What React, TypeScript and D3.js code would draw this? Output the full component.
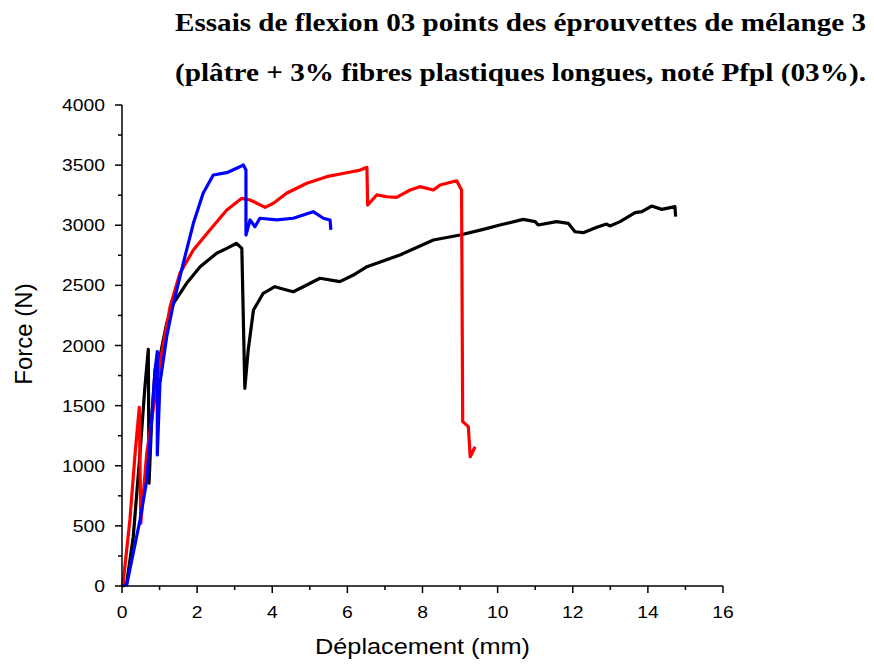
import React from "react";
import * as d3 from "d3";

const xTicks = [0, 2, 4, 6, 8, 10, 12, 14, 16];
const yTicks = [0, 500, 1000, 1500, 2000, 2500, 3000, 3500, 4000];
const titleLines = [
  "Essais de flexion 03 points des éprouvettes de mélange 3",
  "(plâtre + 3% fibres plastiques longues, noté Pfpl (03%).",
];

const blackX = [0, 0.125, 0.3, 0.48, 0.61, 0.7, 0.72, 0.79, 0.88, 1.01, 1.19, 1.37, 1.72, 2.08, 2.52, 2.79, 3.05, 3.19, 3.27, 3.36, 3.5, 3.76, 4.07, 4.38, 4.56, 4.92, 5.27, 5.8, 6.16, 6.52, 7.4, 8.29, 9.0, 9.62, 10.06, 10.68, 11.0, 11.08, 11.57, 11.88, 12.06, 12.28, 12.64, 12.9, 12.99, 13.26, 13.66, 13.84, 14.1, 14.37, 14.72, 14.74];
const blackY = [0, 25, 410, 1106, 1657, 1968, 856, 1380, 1796, 1907, 2185, 2351, 2517, 2655, 2767, 2808, 2850, 2808, 1644, 1963, 2295, 2434, 2489, 2462, 2447, 2503, 2559, 2531, 2586, 2655, 2753, 2877, 2919, 2966, 3002, 3049, 3030, 3002, 3030, 3016, 2946, 2938, 2983, 3010, 2994, 3030, 3105, 3113, 3160, 3132, 3155, 3071];

const redX = [0, 0.03, 0.21, 0.35, 0.46, 0.5, 0.66, 0.92, 1.01, 1.28, 1.54, 1.9, 2.34, 2.79, 3.19, 3.41, 3.59, 3.81, 4.03, 4.38, 4.92, 5.45, 5.98, 6.34, 6.52, 6.54, 6.78, 7.05, 7.31, 7.67, 7.93, 8.29, 8.47, 8.91, 9.04, 9.07, 9.22, 9.27, 9.4];
const redY = [0, 25, 549, 1106, 1486, 521, 1106, 1657, 1852, 2323, 2600, 2794, 2961, 3127, 3224, 3210, 3183, 3149, 3183, 3266, 3349, 3404, 3437, 3459, 3482, 3168, 3252, 3237, 3232, 3293, 3321, 3293, 3335, 3370, 3293, 1367, 1325, 1075, 1158];

const blueX = [0, 0.125, 0.3, 0.48, 0.66, 0.79, 0.88, 0.94, 0.94, 1.01, 1.19, 1.37, 1.63, 1.9, 2.16, 2.43, 2.79, 3.14, 3.23, 3.3, 3.3, 3.41, 3.54, 3.67, 4.12, 4.56, 5.09, 5.36, 5.54, 5.56];
const blueY = [0, 8, 274, 549, 882, 1380, 1796, 1949, 1090, 1686, 2073, 2351, 2683, 3016, 3266, 3418, 3437, 3487, 3501, 3459, 2919, 3044, 2988, 3058, 3044, 3058, 3113, 3058, 3044, 2961];

const seriesList = [
  { xs: blackX, ys: blackY, color: "#000000" },
  { xs: redX, ys: redY, color: "#ff0000" },
  { xs: blueX, ys: blueY, color: "#0000ff" },
];

export default function App() {
  const W = 874, H = 664;
  const x = d3.scaleLinear().domain([0, 16]).range([122, 723]);
  const y = d3.scaleLinear().domain([0, 4000]).range([586, 105]);
  const line = d3.line<[number, number]>().x((d) => x(d[0])).y((d) => y(d[1]));
  const xMinor = d3.range(0, 17, 1);
  const yMinor = d3.range(0, 4001, 250);
  const sans = "'Liberation Sans', Arial, sans-serif";
  return (
    <svg width={W} height={H} style={{ position: "absolute", left: 0, top: 0, background: "#fff" }}>
      <rect width={W} height={H} fill="#fff" />
      {titleLines.map((t, i) => (
        <text key={i} transform={`translate(175,${31 + i * 50}) scale(1,0.9)`} x={0} y={0} textLength={691} lengthAdjust="spacingAndGlyphs" fontFamily="'Liberation Serif', 'Times New Roman', serif" fontWeight="bold" fontSize={29}>{t}</text>
      ))}
      {seriesList.map((s, i) => (
        <path key={i} d={line(s.xs.map((v, j) => [v, s.ys[j]] as [number, number])) || ""} fill="none" stroke={s.color} strokeWidth={3.2} strokeLinejoin="round" />
      ))}
      <g fontFamily={sans}>
        <line x1={122} x2={723} y1={586} y2={586} stroke="#000" strokeWidth={1.5} />
        <line x1={122} x2={122} y1={105} y2={586} stroke="#000" strokeWidth={1.5} />
        {xMinor.map((v) => (
          <line key={"xm" + v} x1={x(v)} x2={x(v)} y1={586} y2={v % 2 === 0 ? 593 : 590} stroke="#000" strokeWidth={1.5} />
        ))}
        {yMinor.map((v) => (
          <line key={"ym" + v} x1={122} x2={v % 500 === 0 ? 115 : 118} y1={y(v)} y2={y(v)} stroke="#000" strokeWidth={1.5} />
        ))}
        {xTicks.map((v) => (
          <text key={"xt" + v} transform={`translate(${x(v)},618) scale(1,0.86)`} textAnchor="middle" fontSize={19.3}>{v}</text>
        ))}
        {yTicks.map((v) => (
          <text key={"yt" + v} transform={`translate(105,${y(v) + 6}) scale(1,0.86)`} textAnchor="end" fontSize={19.3}>{v}</text>
        ))}
        <text transform="translate(422.5,654) scale(1,0.87)" textAnchor="middle" fontSize={25.3}>Déplacement (mm)</text>
        <text transform="translate(32,334) rotate(-90)" textAnchor="middle" fontSize={24}>Force (N)</text>
      </g>
    </svg>
  );
}
